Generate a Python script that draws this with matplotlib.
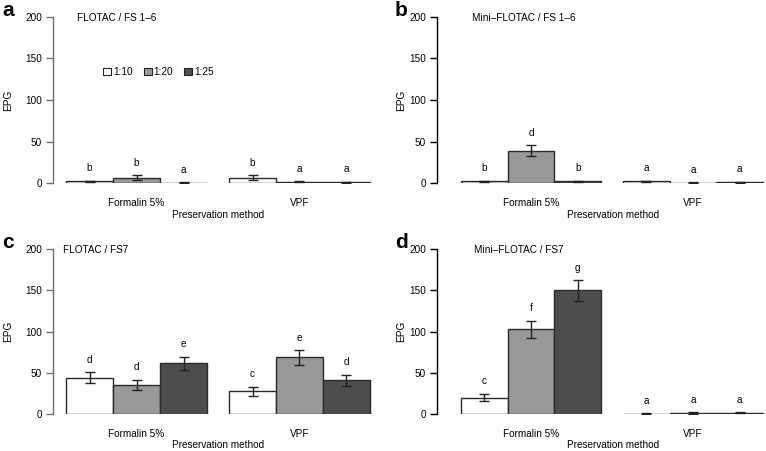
import numpy as np
import matplotlib
matplotlib.use('Agg')
import matplotlib.pyplot as plt
from matplotlib.patches import Patch

plt.rcParams['font.family'] = ['Liberation Sans', 'DejaVu Sans']

# ─────────────────────────────────────────────
# DATA
# ─────────────────────────────────────────────
GROUPS = ['Formalin 5%', 'VPF']
RATIOS = ['1:10', '1:20', '1:25']

a_means   = [2, 6.5, 0.5, 6.5, 1.5, 1]
a_se      = [1, 3, 0.3, 3, 0.8, 0.8]
a_letters = ['b', 'b', 'a', 'b', 'a', 'a']

b_means   = [2, 39, 2, 2, 0.5, 1]
b_se      = [1, 6.5, 1, 1, 0.3, 0.5]
b_letters = ['b', 'd', 'b', 'a', 'a', 'a']

c_means   = [44, 35.5, 61.5, 27.5, 68.5, 41]
c_se      = [7, 6, 8, 5.5, 8.5, 6.5]
c_letters = ['d', 'd', 'e', 'c', 'e', 'd']

d_means   = [20, 102.5, 150, 0.5, 1.5, 1.5]
d_se      = [4.8, 10.5, 12.5, 0.3, 1, 0.5]
d_letters = ['c', 'f', 'g', 'a', 'a', 'a']

TITLES = ['FLOTAC / FS 1–6', 'Mini–FLOTAC / FS 1–6', 'FLOTAC / FS7', 'Mini–FLOTAC / FS7']
TAGS   = ['a', 'b', 'c', 'd']

COLORS = ['white', '#999999', '#4d4d4d']
W, H = 766, 451
FS = 7.2

# ─────────────────────────────────────────────
# LAYOUT (pixels)
# ─────────────────────────────────────────────
GAP = 0.47
pos = [g * (3 + GAP) + r + 0.5 for g in range(2) for r in range(3)]
group_centers = [g * (3 + GAP) + 1.5 for g in range(2)]

# left px, y0 px, y200 px, width px, xlim, axis colour
PANELS = [
    (53, 183, 17, 323, (-0.28, 6.6), '#6e6e6e'),
    (437, 183, 17, 329, (-0.51, 6.53), 'black'),
    (53, 414, 249, 323, (-0.28, 6.6), '#6e6e6e'),
    (437, 414, 249, 329, (-0.51, 6.53), 'black'),
]
TITLE_X = [77, 472, 63, 474]
TAG_X = [2, 395, 2, 395]

data = [(a_means, a_se, a_letters), (b_means, b_se, b_letters),
        (c_means, c_se, c_letters), (d_means, d_se, d_letters)]

fig = plt.figure(figsize=(W / 100, H / 100), dpi=100)

for k, (left, y0, y200, width, xlim, axcol) in enumerate(PANELS):
    ax = fig.add_axes([left / W, (H - y0) / H, width / W, (y0 - y200) / H])
    means, se, letters = data[k]
    cols = COLORS * 2
    ax.bar(pos, means, width=1.0, color=cols, edgecolor='#2a2a2a', linewidth=1.0, zorder=2)
    ax.errorbar(pos, means, yerr=se, fmt='none', ecolor='#222222', elinewidth=1.0,
                capsize=3.5, capthick=1.0, zorder=3)
    for x, m, s, lt in zip(pos, means, se, letters):
        ax.text(x, m + s + 15, lt, ha='center', va='center', fontsize=FS)

    ax.set_xlim(*xlim)
    ax.set_ylim(0, 200)
    for sp in ['top', 'right', 'bottom']:
        ax.spines[sp].set_visible(False)
    ax.spines['left'].set_bounds(0, 200)
    ax.spines['left'].set_color(axcol)
    ax.spines['left'].set_linewidth(1.0)
    ax.set_yticks([0, 50, 100, 150, 200])
    ax.tick_params(axis='y', length=5, width=1.0, color=axcol, labelsize=FS, pad=3)
    ax.set_xticks(group_centers)
    ax.set_xticklabels(GROUPS, fontsize=FS)
    ax.tick_params(axis='x', length=0, pad=11)
    ax.set_xlabel('Preservation method', fontsize=FS)
    ax.xaxis.set_label_coords((218 - 53) / 323 if left < 300 else (613 - 437) / 329,
                              -31.5 / (y0 - y200))
    ax.xaxis.label.set_va('center')
    ax.set_ylabel('EPG', fontsize=FS)
    ax.yaxis.set_label_coords((8 - 53) / 323 if left < 300 else (401 - 437) / 329, 0.5)
    ax.yaxis.label.set_va('center')
    ax.patch.set_visible(False)

    fig.text(TITLE_X[k] / W, 1 - (y200 + 1) / H, TITLES[k], fontsize=FS, ha='left', va='center')
    fig.text(TAG_X[k] / W, 1 - (y200 - 7) / H, TAGS[k], fontsize=15, fontweight='bold',
             ha='left', va='center', family='Liberation Sans')

    if k == 0:
        handles = [Patch(facecolor=c, edgecolor='#222222', linewidth=0.8) for c in COLORS]
        ax.legend(handles, RATIOS, ncol=3, frameon=False, fontsize=FS,
                  handlelength=0.8, handleheight=0.8, handletextpad=0.2,
                  columnspacing=1.1, loc='center left',
                  bbox_to_anchor=((99 - 53) / 323, (183 - 72) / 166), borderaxespad=0)

fig.savefig('out.png', dpi=100)
